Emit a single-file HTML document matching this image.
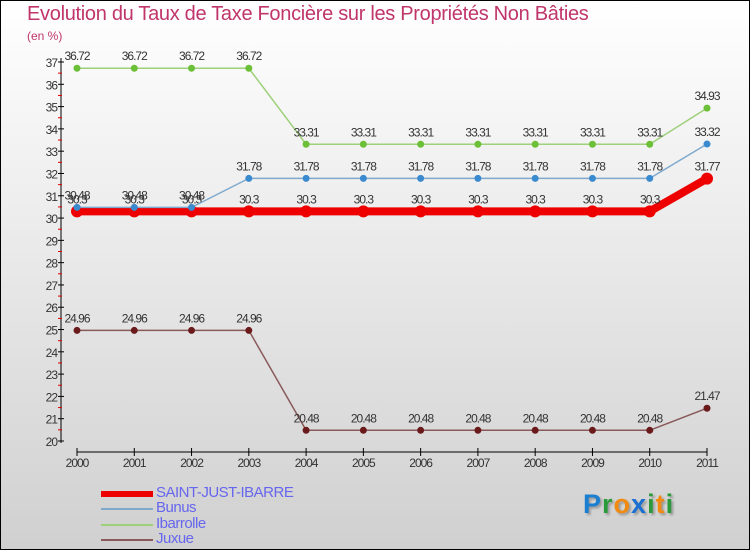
<!DOCTYPE html>
<html><head><meta charset="utf-8"><style>
body{margin:0;}
#wrap{position:relative;width:748px;height:548px;border:1px solid #000;background:linear-gradient(#ffffff,#d0d0d0);overflow:hidden;font-family:"Liberation Sans",sans-serif;}
.title{position:absolute;left:26px;top:2px;font-size:20px;color:#c0356a;letter-spacing:-0.3px}
.sub{position:absolute;left:26px;top:28px;font-size:12px;color:#c0356a}
.leg{position:absolute;left:155px;font-size:15px;color:#6666ee;letter-spacing:-0.5px}
.legl{position:absolute;left:100px;width:52px}
</style></head><body>
<div id="wrap">
<div class="title">Evolution du Taux de Taxe Foncière sur les Propriétés Non Bâties</div>
<div class="sub">(en %)</div>
<svg id="svg" width="750" height="550" style="position:absolute;left:0;top:0"></svg>
<div class="legl" style="top:490px;height:6px;background:#e00;"></div>
<div class="leg" style="top:483px">SAINT-JUST-IBARRE</div>
<div class="legl" style="top:507px;height:2px;background:#7fa9cc;"></div>
<div class="leg" style="top:498px">Bunus</div>
<div class="legl" style="top:523px;height:2px;background:#9ed07a;"></div>
<div class="leg" style="top:514px">Ibarrolle</div>
<div class="legl" style="top:538px;height:2px;background:#8a5a5a;"></div>
<div class="leg" style="top:529px">Juxue</div>
<div style="position:absolute;left:582px;top:488px;font-size:27px;font-weight:bold;letter-spacing:1px;text-shadow:2px 2px 2px #999"><span style="color:#1a7fd0">P</span><span style="color:#2a9a3a">r</span><span style="color:#f08a10">o</span><span style="color:#1a6fd0">x</span><span style="color:#2a9a3a">i</span><span style="color:#f08a10">t</span><span style="color:#2a9a3a">i</span></div>
</div>
<script>
const years=[2000,2001,2002,2003,2004,2005,2006,2007,2008,2009,2010,2011];
const yTicks=[20,21,22,23,24,25,26,27,28,29,30,31,32,33,34,35,36,37];
const sji=[30.3,30.3,30.3,30.3,30.3,30.3,30.3,30.3,30.3,30.3,30.3,31.77];
const bunus=[30.48,30.48,30.48,31.78,31.78,31.78,31.78,31.78,31.78,31.78,31.78,33.32];
const ibarrolle=[36.72,36.72,36.72,36.72,33.31,33.31,33.31,33.31,33.31,33.31,33.31,34.93];
const juxue=[24.96,24.96,24.96,24.96,20.48,20.48,20.48,20.48,20.48,20.48,20.48,21.47];
const NS="http://www.w3.org/2000/svg";
const svg=document.getElementById('svg');
const x=i=>76+i*(630/11);
const y=v=>440-(v-20)*(379/17);
function mk(t,a){const e=document.createElementNS(NS,t);for(const k in a)e.setAttribute(k,a[k]);svg.appendChild(e);return e;}
let e=mk('line',{x1:60,y1:y(37)-4,x2:60,y2:y(20)+2,stroke:'#000','stroke-width':1});


e=mk('line',{x1:76,y1:451,x2:706,y2:451,stroke:'#000','stroke-width':1});


yTicks.forEach((v,i)=>{
  let t=mk('line',{x1:57,y1:y(v),x2:63,y2:y(v),stroke:'#000'});
  
  
  if(i<yTicks.length-1){let m=mk('line',{x1:57,y1:y(v+0.5),x2:61,y2:y(v+0.5),stroke:'#d00'});
  
  }
  let l=mk('text',{x:56,y:y(v)+5,'text-anchor':'end','font-size':12,fill:'#333','letter-spacing':'-1'});l.textContent=v;
  
  
});
years.forEach((yr,i)=>{
  let t=mk('line',{x1:x(i),y1:447,x2:x(i),y2:455,stroke:'#000'});
  
  
  let l=mk('text',{x:x(i),y:466,'text-anchor':'middle','font-size':12,fill:'#333','letter-spacing':'-1'});l.textContent=yr;
  
  
});
function series(data,color,w,r,name,dot){
  let p=mk('polyline',{points:data.map((v,i)=>x(i)+','+y(v)).join(' '),fill:'none',stroke:color,'stroke-width':w,'stroke-linejoin':'round'});
  
  
  data.forEach((v,i)=>{
    let c=mk('circle',{cx:x(i),cy:y(v),r:r,fill:dot});
    
    
    let t=mk('text',{x:x(i),y:y(v)-8,'text-anchor':'middle','font-size':12,fill:'#333','letter-spacing':'-1'});t.textContent=v;
    
    
  });
}
series(ibarrolle,'#9ed07a',1.5,3.5,'ibarrolle','#6cc038');
series(juxue,'#8a5a5a',1.5,3.5,'juxue','#6a1a1a');
series(sji,'#ee0000',8,6,'saint-just-ibarre','#ee0000');
series(bunus,'#7fa9cc',1.5,3.5,'bunus','#3a8ad0');
</script>
</body></html>
